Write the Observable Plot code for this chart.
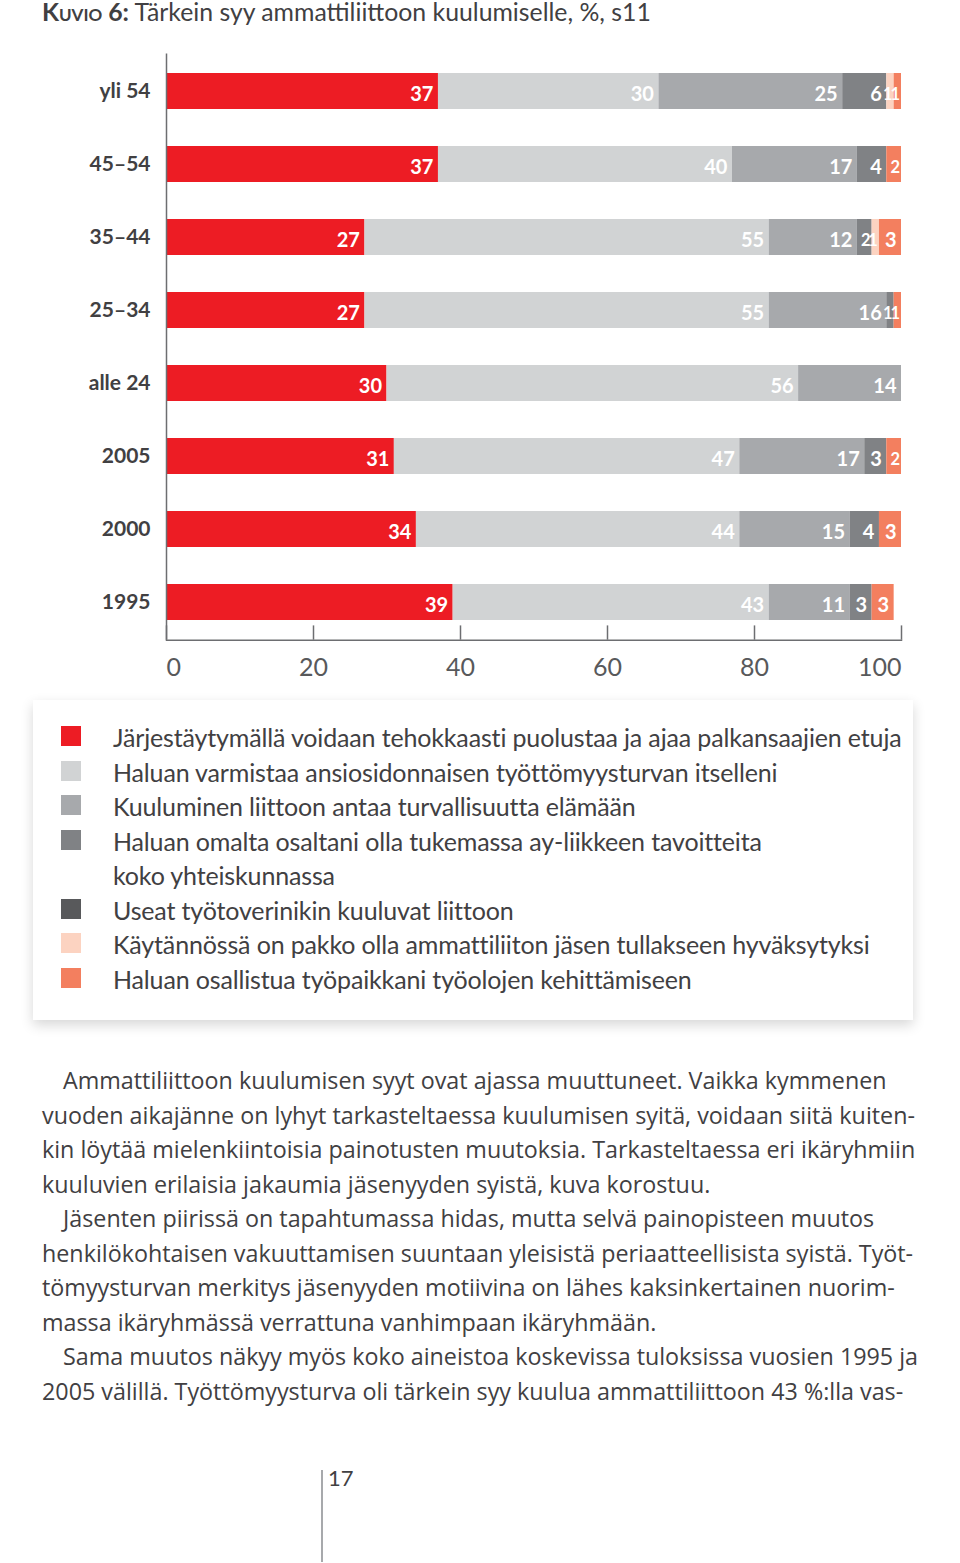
<!DOCTYPE html>
<html>
<head>
<meta charset="utf-8">
<script src="https://cdn.jsdelivr.net/npm/d3@7"></script>
<script src="https://cdn.jsdelivr.net/npm/@observablehq/plot@0.6"></script>
<style>
  html, body { margin: 0; padding: 0; background: #fff; }
  body { position: relative; width: 960px; height: 1563px; overflow: hidden; color: #414042; }
  #title { position: absolute; left: 42px; top: -3px; font-family: Lato, sans-serif; font-size: 24.8px; white-space: nowrap; color: #414042; }
  #title b { font-variant: small-caps; font-weight: bold; }
  #chart { position: absolute; left: 0; top: 30px; }
  #legend { position: absolute; left: 33px; top: 700px; width: 880px; height: 320px; background: #fff;
    box-shadow: 0 5px 12px rgba(0,0,0,0.16); box-sizing: border-box; padding: 20px 0 0 28px;
    font-family: Lato, sans-serif; font-size: 25px; letter-spacing: -0.15px; color: #414042; }
  .item { display: flex; align-items: flex-start; line-height: 34.5px; white-space: nowrap; }
  .sw { width: 20px; height: 20px; flex: none; margin-top: 6px; margin-right: 32px; }
  #body { position: absolute; left: 42px; top: 1063px; width: 910px; font-family: "Open Sans", sans-serif; font-size: 23.3px; line-height: 34.5px; color: #414042; white-space: nowrap; }
  #body .ind { padding-left: 21px; }
  #pageline { position: absolute; left: 321px; top: 1470px; width: 2px; height: 92px; background: #a7a9ac; }
  #pagenum { position: absolute; left: 328px; top: 1464px; font-family: Lato, sans-serif; font-size: 22px; color: #414042; }
</style>
</head>
<body>
<div id="title"><b>Kuvio 6:</b> Tärkein syy ammattiliittoon kuulumiselle, %, s11</div>
<div id="chart"></div>
<div id="legend"></div>
<div id="body"></div>
<div id="pageline"></div>
<div id="pagenum">17</div>
<script>
const groups = ["yli 54", "45–54", "35–44", "25–34", "alle 24", "2005", "2000", "1995"];
const categories = [
  "Järjestäytymällä voidaan tehokkaasti puolustaa ja ajaa palkansaajien etuja",
  "Haluan varmistaa ansiosidonnaisen työttömyysturvan itselleni",
  "Kuuluminen liittoon antaa turvallisuutta elämään",
  "Haluan omalta osaltani olla tukemassa ay-liikkeen tavoitteita koko yhteiskunnassa",
  "Useat työtoverinikin kuuluvat liittoon",
  "Käytännössä on pakko olla ammattiliiton jäsen tullakseen hyväksytyksi",
  "Haluan osallistua työpaikkani työolojen kehittämiseen"
];
const legendLines = [
  ["Järjestäytymällä voidaan tehokkaasti puolustaa ja ajaa palkansaajien etuja"],
  ["Haluan varmistaa ansiosidonnaisen työttömyysturvan itselleni"],
  ["Kuuluminen liittoon antaa turvallisuutta elämään"],
  ["Haluan omalta osaltani olla tukemassa ay-liikkeen tavoitteita", "koko yhteiskunnassa"],
  ["Useat työtoverinikin kuuluvat liittoon"],
  ["Käytännössä on pakko olla ammattiliiton jäsen tullakseen hyväksytyksi"],
  ["Haluan osallistua työpaikkani työolojen kehittämiseen"]
];
const colors = ["#ed1c24", "#d1d3d4", "#a7a9ac", "#808285", "#58595b", "#fcd3c1", "#f37f5f"];

// values per category, in the order of groups
const puolustaa    = [37, 37, 27, 27, 30, 31, 34, 39];
const tyottomyys   = [30, 40, 55, 55, 56, 47, 44, 43];
const turvallisuus = [25, 17, 12, 16, 14, 17, 15, 11];
const tavoitteet   = [6, 4, 2, 1, 0, 3, 4, 3];
const tyotoverit   = [0, 0, 0, 0, 0, 0, 0, 0];
const pakko        = [1, 0, 1, 0, 0, 0, 0, 0];
const osallistua   = [1, 2, 3, 1, 0, 2, 3, 3];
const series = [puolustaa, tyottomyys, turvallisuus, tavoitteet, tyotoverit, pakko, osallistua];

const xTicks = [0, 20, 40, 60, 80, 100];

const bodyLines = [
  ["ind", "Ammattiliittoon kuulumisen syyt ovat ajassa muuttuneet. Vaikka kymmenen"],
  ["", "vuoden aikajänne on lyhyt tarkasteltaessa kuulumisen syitä, voidaan siitä kuiten-"],
  ["", "kin löytää mielenkiintoisia painotusten muutoksia. Tarkasteltaessa eri ikäryhmiin"],
  ["", "kuuluvien erilaisia jakaumia jäsenyyden syistä, kuva korostuu."],
  ["ind", "Jäsenten piirissä on tapahtumassa hidas, mutta selvä painopisteen muutos"],
  ["", "henkilökohtaisen vakuuttamisen suuntaan yleisistä periaatteellisista syistä. Työt-"],
  ["", "tömyysturvan merkitys jäsenyyden motiivina on lähes kaksinkertainen nuorim-"],
  ["", "massa ikäryhmässä verrattuna vanhimpaan ikäryhmään."],
  ["ind", "Sama muutos näkyy myös koko aineistoa koskevissa tuloksissa vuosien 1995 ja"],
  ["", "2005 välillä. Työttömyysturva oli tärkein syy kuulua ammattiliittoon 43 %:lla vas-"]
];

const data = categories.flatMap((c, i) => groups.map((g, j) => ({group: g, cat: c, value: series[i][j]})));
const nonzero = data.filter(d => d.value > 0);
const tickFont = "Lato, sans-serif";

const labelOpts = (dx, size, small) => Plot.stackX2({
  x: "value", y: "group", z: "cat", order: categories,
  text: d => (small ? d.value <= 2 : d.value > 2) ? String(d.value) : "",
  fill: "white", textAnchor: "end", dx, dy: 3, fontWeight: "bold", fontSize: size
});

const chart = Plot.plot({
  width: 960,
  height: 660,
  marginLeft: 166,
  marginRight: 59,
  marginTop: 23.4,
  marginBottom: 50.3,
  x: {domain: [0, 100], axis: null},
  y: {domain: groups, axis: null, paddingInner: 0.51, paddingOuter: 0.255},
  color: {domain: categories, range: colors},
  style: {fontFamily: "Lato, sans-serif", background: "transparent", overflow: "visible"},
  marks: [
    Plot.barX(nonzero, Plot.stackX({x: "value", y: "group", fill: "cat", z: "cat", order: categories})),
    Plot.text(nonzero, labelOpts(-5, 20, false)),
    Plot.text(nonzero, labelOpts(-1.5, 16.5, true)),
    Plot.ruleX([0], {stroke: "#6d6e71", strokeWidth: 1.5}),
    Plot.frame({anchor: "bottom", stroke: "#6d6e71", strokeWidth: 1.5}),
    Plot.ruleX(xTicks, {x: d => d, insetTop: 572, stroke: "#6d6e71", strokeWidth: 1.5}),
    Plot.text(groups, {y: d => d, text: d => d, frameAnchor: "left", textAnchor: "end", dx: -16, dy: 0,
      fontWeight: "bold", fontSize: 21, fill: "#414042"}),
    Plot.text(xTicks.filter(d => d === 0), {x: d => d, text: d => String(d), frameAnchor: "bottom", textAnchor: "start", dy: 36, fontSize: 25, fill: "#58595b", fontFamily: tickFont}),
    Plot.text(xTicks.filter(d => d > 0 && d < 100), {x: d => d, text: d => String(d), frameAnchor: "bottom", textAnchor: "middle", dy: 36, fontSize: 25, fill: "#58595b", fontFamily: tickFont}),
    Plot.text(xTicks.filter(d => d === 100), {x: d => d, text: d => String(d), frameAnchor: "bottom", textAnchor: "end", dy: 36, fontSize: 25, fill: "#58595b", fontFamily: tickFont})
  ]
});
document.getElementById("chart").append(chart);

const legend = document.getElementById("legend");
legendLines.forEach((lines, i) => {
  const row = document.createElement("div");
  row.className = "item";
  const sw = document.createElement("div");
  sw.className = "sw";
  sw.style.background = colors[i];
  const txt = document.createElement("div");
  txt.innerHTML = lines.join("<br>");
  row.append(sw, txt);
  legend.append(row);
});

const body = document.getElementById("body");
bodyLines.forEach(([cls, t]) => {
  const div = document.createElement("div");
  if (cls) div.className = cls;
  div.textContent = t;
  body.append(div);
});
</script>
</body>
</html>
